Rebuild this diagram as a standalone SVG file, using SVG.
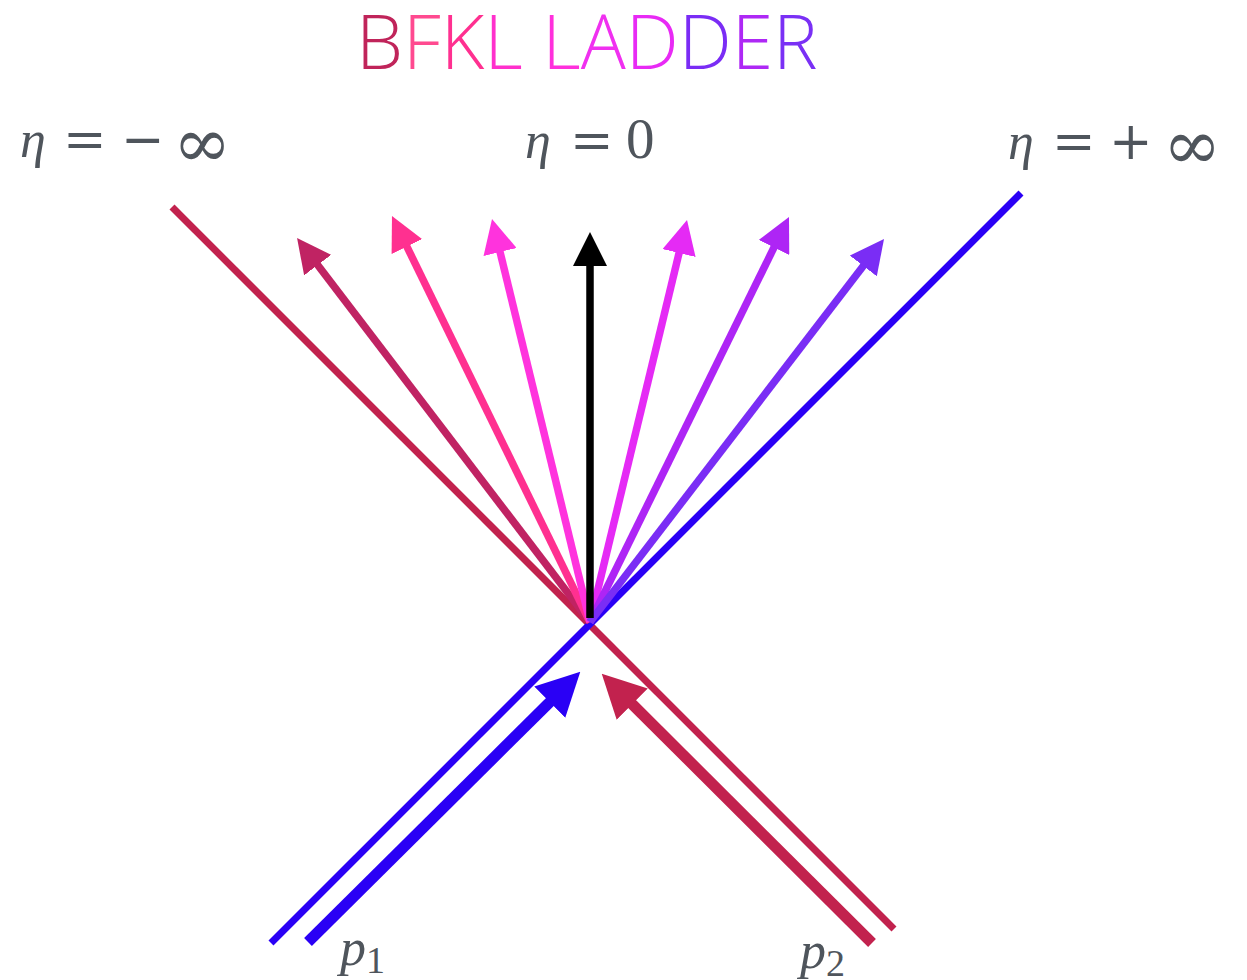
<svg xmlns="http://www.w3.org/2000/svg" width="1247" height="980" viewBox="0 0 1247 980">
<style>
.lbl{font-family:"Liberation Serif","DejaVu Serif",serif;font-size:52px;fill:#4f555c}
.it{font-style:italic}
.sym{font-family:"DejaVu Serif","Liberation Serif",serif;font-size:52px}
.inf{font-family:"DejaVu Serif","Liberation Serif",serif;font-size:70px}
.title{font-family:"Open Sans","Lato",sans-serif;font-weight:300;font-size:75px}
.fan{stroke-width:7.5;fill:none}
.main{stroke-width:7;fill:none}
.inc{stroke-width:11;fill:none}
</style>
<defs>
<marker id="h1" markerUnits="userSpaceOnUse" markerWidth="34" markerHeight="34" refX="10" refY="17" orient="auto"><path d="M0,0 L34,17 L0,34 z" fill="#c02363"/></marker>
<marker id="h2" markerUnits="userSpaceOnUse" markerWidth="34" markerHeight="34" refX="10" refY="17" orient="auto"><path d="M0,0 L34,17 L0,34 z" fill="#ff3090"/></marker>
<marker id="h3" markerUnits="userSpaceOnUse" markerWidth="34" markerHeight="34" refX="10" refY="17" orient="auto"><path d="M0,0 L34,17 L0,34 z" fill="#ff33dd"/></marker>
<marker id="h4" markerUnits="userSpaceOnUse" markerWidth="34" markerHeight="34" refX="10" refY="17" orient="auto"><path d="M0,0 L34,17 L0,34 z" fill="#000000"/></marker>
<marker id="h5" markerUnits="userSpaceOnUse" markerWidth="34" markerHeight="34" refX="10" refY="17" orient="auto"><path d="M0,0 L34,17 L0,34 z" fill="#e52af5"/></marker>
<marker id="h6" markerUnits="userSpaceOnUse" markerWidth="34" markerHeight="34" refX="10" refY="17" orient="auto"><path d="M0,0 L34,17 L0,34 z" fill="#ae25f5"/></marker>
<marker id="h7" markerUnits="userSpaceOnUse" markerWidth="34" markerHeight="34" refX="10" refY="17" orient="auto"><path d="M0,0 L34,17 L0,34 z" fill="#7a2df5"/></marker>
<marker id="hb" markerUnits="userSpaceOnUse" markerWidth="43" markerHeight="44" refX="13" refY="22" orient="auto"><path d="M0,0 L43,22 L0,44 z" fill="#2a00f5"/></marker>
<marker id="hr" markerUnits="userSpaceOnUse" markerWidth="43" markerHeight="44" refX="13" refY="22" orient="auto"><path d="M0,0 L43,22 L0,44 z" fill="#c2224e"/></marker>
</defs>

<g id="title">
<text class="title" x="356" y="69"><tspan fill="#c0245a">B</tspan><tspan fill="#ff4a90">F</tspan><tspan fill="#ff3090">K</tspan><tspan fill="#ff30cc">L</tspan> <tspan fill="#ff30dc">L</tspan><tspan fill="#f030f0">A</tspan><tspan fill="#e82af5">D</tspan><tspan fill="#7a2cf5">D</tspan><tspan fill="#ae28f5">E</tspan><tspan fill="#7a30f5">R</tspan></text>
</g>

<g id="label-minus-inf">
<text class="lbl" y="157"><tspan class="it" x="20">η</tspan><tspan class="sym" x="63">=</tspan><tspan class="sym" x="121">−</tspan><tspan class="inf" x="173" dy="10">∞</tspan></text>
</g>
<g id="label-zero">
<text class="lbl" y="158"><tspan class="it" x="525">η</tspan><tspan class="sym" x="570">=</tspan><tspan x="626" font-size="57">0</tspan></text>
</g>
<g id="label-plus-inf">
<text class="lbl" y="159"><tspan class="it" x="1008">η</tspan><tspan class="sym" x="1052">=</tspan><tspan class="sym" x="1109">+</tspan><tspan class="inf" x="1163" dy="10">∞</tspan></text>
</g>

<g id="connectors">
<line class="main" x1="172" y1="207" x2="894" y2="929" stroke="#c2224e"/>
<line class="main" x1="1021" y1="193" x2="271" y2="943" stroke="#2a00f5"/>

<line class="inc" x1="308" y1="942" x2="559" y2="693" stroke="#2a00f5" marker-end="url(#hb)"/>
<line class="inc" x1="872" y1="943" x2="623" y2="695" stroke="#c2224e" marker-end="url(#hr)"/>

<line class="fan" x1="590" y1="622" x2="311.6" y2="257.1" stroke="#c02363" marker-end="url(#h1)"/>
<line class="fan" x1="590" y1="622" x2="402.5" y2="237.6" stroke="#ff3090" marker-end="url(#h2)"/>
<line class="fan" x1="590" y1="622" x2="497.7" y2="242.3" stroke="#ff33dd" marker-end="url(#h3)"/>
<line class="fan" x1="590" y1="622" x2="681.4" y2="243.3" stroke="#e52af5" marker-end="url(#h5)"/>
<line class="fan" x1="590" y1="622" x2="778.4" y2="238.5" stroke="#ae25f5" marker-end="url(#h6)"/>
<line class="fan" x1="590" y1="622" x2="869.4" y2="258" stroke="#7a2df5" marker-end="url(#h7)"/>
<line class="fan" x1="590" y1="618" x2="590" y2="256" stroke="#000000" marker-end="url(#h4)"/>
</g>

<g id="label-p1">
<text class="lbl" x="340" y="965"><tspan class="it">p</tspan><tspan font-size="38" dy="8">1</tspan></text>
</g>
<g id="label-p2">
<text class="lbl" x="800" y="968"><tspan class="it">p</tspan><tspan font-size="38" dy="8">2</tspan></text>
</g>
</svg>
